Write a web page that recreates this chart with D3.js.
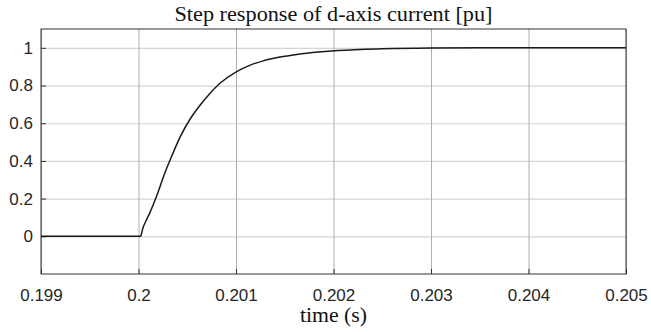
<!DOCTYPE html>
<html lang="en">
<head>
<meta charset="UTF-8">
<title>Step response of d-axis current</title>
<style>
body { margin: 0; background: #fff; }
.axis .domain { display: none; }
.axis text { font-family: "Liberation Sans", Arial, sans-serif; font-size: 17px; fill: #262626; }
.grid .domain { display: none; }
.grid text { display: none; }
</style>
</head>
<body>
<svg width="651" height="332"></svg>
<script src="https://d3js.org/d3.v7.min.js"></script>
<script>

// values
var timeS = [0.199, 0.20002, 0.200026, 0.200043, 0.20008, 0.200118, 0.200187, 0.200272, 0.200341,
             0.20043, 0.200528, 0.200631, 0.20073, 0.200836, 0.201007, 0.20114, 0.20128, 0.20145,
             0.201623, 0.20185, 0.202049, 0.2025, 0.203, 0.2035, 0.204, 0.205];
var current = [0, 0, 0.005, 0.04, 0.085, 0.127, 0.215, 0.339, 0.426,
               0.53, 0.621, 0.695, 0.757, 0.812, 0.874, 0.907, 0.931, 0.951,
               0.965, 0.978, 0.986, 0.995, 0.999, 1.0, 1.0, 1.0];

var xTicks = [0.199, 0.2, 0.201, 0.202, 0.203, 0.204, 0.205];
var xTickLabels = ["0.199", "0.2", "0.201", "0.202", "0.203", "0.204", "0.205"];
var yTicks = [0, 0.2, 0.4, 0.6, 0.8, 1];
var yTickLabels = ["0", "0.2", "0.4", "0.6", "0.8", "1"];

var svg = d3.select("svg"),
    margin = {top: 29, right: 25, bottom: 58, left: 41},
    width = +svg.attr("width") - margin.left - margin.right,
    height = +svg.attr("height") - margin.top - margin.bottom,
    g = svg.append("g").attr("transform", "translate(" + margin.left + "," + margin.top + ")");

var x = d3.scaleLinear().domain([0.199, 0.205]).range([0, width]);
var y = d3.scaleLinear().domain([-0.2, 1.1]).range([height, 0]);

// grid
g.append("g")
    .attr("class", "grid")
    .call(d3.axisLeft(y).tickValues(yTicks).tickSize(-width))
    .selectAll("line")
      .attr("stroke", "#d4d4d4")
      .attr("stroke-width", 1.2);

g.append("g")
    .attr("class", "grid")
    .attr("transform", "translate(0," + height + ")")
    .call(d3.axisBottom(x).tickValues(xTicks).tickSize(-height))
    .selectAll("line")
      .attr("stroke", "#b0b0b0")
      .attr("stroke-width", 1);

// axes (inward ticks)
g.append("g")
    .attr("class", "axis")
    .attr("transform", "translate(0," + height + ")")
    .call(d3.axisBottom(x).tickValues(xTicks)
      .tickFormat(function(d, i) { return xTickLabels[i]; })
      .tickSize(-5).tickPadding(15))
    .selectAll("line").attr("stroke", "#333");

g.append("g")
    .attr("class", "axis")
    .call(d3.axisLeft(y).tickValues(yTicks)
      .tickFormat(function(d, i) { return yTickLabels[i]; })
      .tickSize(-5).tickPadding(8))
    .selectAll("line").attr("stroke", "#333");

// box
g.append("rect")
    .attr("width", width)
    .attr("height", height)
    .attr("fill", "none")
    .attr("stroke", "#333")
    .attr("stroke-width", 1);

// step response
var line = d3.line()
    .x(function(d, i) { return x(timeS[i]); })
    .y(function(d) { return y(d); })
    .curve(d3.curveMonotoneX);

g.append("path")
    .datum(current)
    .attr("fill", "none")
    .attr("stroke", "#1a1a1a")
    .attr("stroke-width", 1.5)
    .attr("d", line);

// title and label (serif, stretched a little like the LaTeX text)
svg.append("text")
    .attr("x", margin.left + width / 2)
    .attr("y", 21)
    .attr("text-anchor", "middle")
    .attr("font-family", "'Liberation Serif', 'Times New Roman', serif")
    .attr("font-size", 20)
    .attr("textLength", 318)
    .attr("lengthAdjust", "spacingAndGlyphs")
    .attr("fill", "#111")
    .text("Step response of d-axis current [pu]");

svg.append("text")
    .attr("x", margin.left + width / 2)
    .attr("y", 322)
    .attr("text-anchor", "middle")
    .attr("font-family", "'Liberation Serif', 'Times New Roman', serif")
    .attr("font-size", 20)
    .attr("textLength", 67)
    .attr("lengthAdjust", "spacingAndGlyphs")
    .attr("fill", "#111")
    .text("time (s)");

</script>
</body>
</html>
